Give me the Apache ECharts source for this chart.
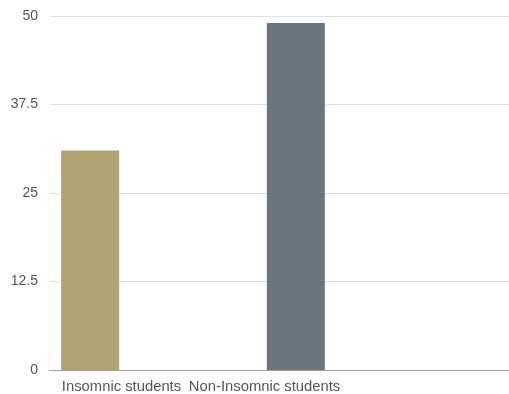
<!DOCTYPE html>
<html>
<head>
<meta charset="utf-8">
<script src="https://cdn.jsdelivr.net/npm/echarts@6/dist/echarts.min.js"></script>
<style>
  html, body { margin: 0; padding: 0; background: #fff; }
  #chart { width: 509px; height: 394px; }
</style>
</head>
<body>
<div id="chart"></div>
<script>
// Survey groups and their values
const categories = ['Insomnic students', 'Non-Insomnic students'];
const insomnicValues = [31, '-'];
const nonInsomnicValues = ['-', 49];
const yTicks = { min: 0, max: 50, interval: 12.5 };

const FONT = '"Liberation Sans", "DejaVu Sans", sans-serif';
const TEXT = '#555';

const chart = echarts.init(document.getElementById('chart'), null, { renderer: 'canvas' });

chart.setOption({
  animation: false,
  backgroundColor: '#fff',
  grid: [
    // full-width frame: value axis, gridlines, baseline
    { left: 50, right: 0, top: 16, bottom: 24 },
    // bar area with category labels
    { left: 50, right: 173, top: 16, bottom: 24 }
  ],
  xAxis: [
    {
      gridIndex: 0, type: 'category', data: categories,
      axisLine: { show: true, lineStyle: { color: '#9f9f9f', width: 1 } },
      axisTick: { show: false }, axisLabel: { show: false }, splitLine: { show: false }
    },
    {
      gridIndex: 1, type: 'category', data: categories,
      axisLine: { show: false }, axisTick: { show: false },
      axisLabel: { color: TEXT, fontFamily: FONT, fontSize: 14.8, margin: 9, interval: 0 }
    }
  ],
  yAxis: [
    {
      gridIndex: 0, type: 'value', min: yTicks.min, max: yTicks.max, interval: yTicks.interval,
      axisLine: { show: false }, axisTick: { show: false },
      axisLabel: { color: TEXT, fontFamily: FONT, fontSize: 14, margin: 12 },
      splitLine: { show: true, lineStyle: { color: '#e0e0e0', width: 1 } }
    },
    {
      gridIndex: 1, type: 'value', min: yTicks.min, max: yTicks.max, interval: yTicks.interval,
      show: false, splitLine: { show: false }
    }
  ],
  series: [
    {
      name: categories[0], type: 'bar', xAxisIndex: 1, yAxisIndex: 1,
      data: insomnicValues, barWidth: 58, barGap: '8%',
      itemStyle: { color: '#b3a275' }
    },
    {
      name: categories[1], type: 'bar', xAxisIndex: 1, yAxisIndex: 1,
      data: nonInsomnicValues, barWidth: 58, barGap: '8%',
      itemStyle: { color: '#6b757d' }
    }
  ]
});
</script>
</body>
</html>
